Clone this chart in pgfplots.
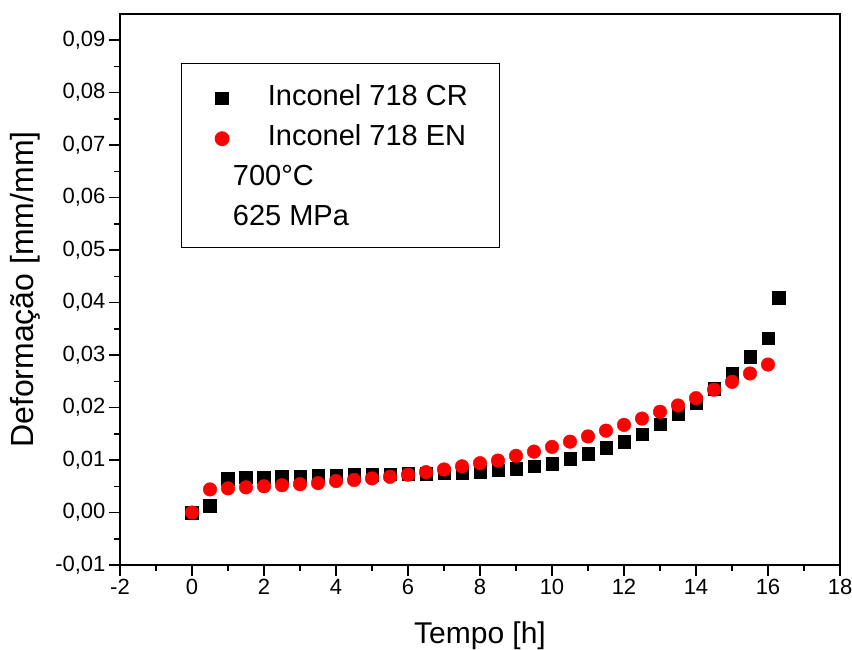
\documentclass[border=0pt]{standalone}
\usepackage{pgfplots}
\pgfplotsset{compat=1.18}
\usepackage{fontspec}
\setmainfont{Liberation Sans}
\pgfplotsset{shiftedlegend/.style={legend image code/.code={\draw[mark repeat=2,mark phase=2,##1] plot coordinates {(0cm,-3pt) (0.3cm,-3pt) (0.6cm,-3pt)};}}}
\begin{document}
\begin{tikzpicture}[x=1pt,y=1pt]
\useasboundingbox (-120,-85) rectangle (732,565);
\begin{axis}[
  at={(0,0)}, anchor=south west,
  scale only axis, width=720pt, height=551pt,
  xmin=-2, xmax=18, ymin=-0.01, ymax=0.095,
  xtick={-2,0,2,4,6,8,10,12,14,16,18},
  ytick={-0.01,0,0.01,0.02,0.03,0.04,0.05,0.06,0.07,0.08,0.09},
  minor x tick num=1, minor y tick num=1,
  scaled y ticks=false,
  xtick pos=bottom, ytick pos=left,
  tick align=outside,
  major tick length=11pt, minor tick length=6pt,
  every tick/.style={line width=1.5pt, black},
  axis line style={line width=1.6pt},
  ticklabel style={font=\fontsize{22}{26}\selectfont},
  /pgf/number format/assume math mode=true,
  yticklabel style={/pgf/number format/.cd, fixed, fixed zerofill, precision=2, use comma},
  xticklabel style={/pgf/number format/.cd, fixed, precision=0},
  xlabel={Tempo [h]},
  xlabel style={font=\fontsize{30}{35}\selectfont, at={(axis description cs:0.5,0)}, anchor=base, yshift=-79pt},
  ylabel={Deformação [mm/mm]},
  ylabel style={font=\fontsize{32}{38}\selectfont, at={(axis description cs:0,0.5)}, anchor=center, yshift=95pt},
  shiftedlegend,
  legend cell align=left,
  legend style={at={(axis description cs:0.0847,0.9111)}, anchor=north west,
    draw=black, line width=1.2pt, font=\fontsize{29}{34}\selectfont,
    inner xsep=32pt, inner ysep=14pt, row sep=4.1pt,
    nodes={inner sep=0pt, text height=28pt, text depth=8pt}},
]
\addplot[only marks, mark=square*, mark size=6.3pt, black, mark options={draw=none, fill=black}] coordinates {
(0,0.0000) (0.5,0.0013) (1,0.0065) (1.5,0.0067) (2,0.0067) (2.5,0.0068)
(3,0.0069) (3.5,0.0070) (4,0.0071) (4.5,0.0072) (5,0.0072) (5.5,0.0073)
(6,0.0074) (6.5,0.0074) (7,0.0075) (7.5,0.0076) (8,0.0078) (8.5,0.0081)
(9,0.0084) (9.5,0.0088) (10,0.0093) (10.5,0.0103) (11,0.0112) (11.5,0.0124)
(12,0.0135) (12.5,0.0149) (13,0.0168) (13.5,0.0188) (14,0.0209) (14.5,0.0236)
(15,0.0264) (15.5,0.0297) (16,0.0332) (16.3,0.0409)
};
\addlegendentry{\hspace*{39pt}Inconel 718 CR}
\addplot[only marks, mark=*, mark size=6.8pt, red, mark options={draw=red, fill=red}] coordinates {
(0,0.0000) (0.5,0.0044) (1,0.0046) (1.5,0.0048) (2,0.0050) (2.5,0.0052)
(3,0.0054) (3.5,0.0056) (4,0.0060) (4.5,0.0062) (5,0.0065) (5.5,0.0068)
(6,0.0072) (6.5,0.0077) (7,0.0082) (7.5,0.0088) (8,0.0094) (8.5,0.0099)
(9,0.0108) (9.5,0.0116) (10,0.0125) (10.5,0.0135) (11,0.0145) (11.5,0.0156)
(12,0.0167) (12.5,0.0179) (13,0.0192) (13.5,0.0204) (14,0.0218) (14.5,0.0234)
(15,0.0249) (15.5,0.0265) (16,0.0282)
};
\addlegendentry{\hspace*{39pt}Inconel 718 EN}
\addlegendimage{empty legend}
\addlegendentry{\hspace*{4pt}700°C}
\addlegendimage{empty legend}
\addlegendentry{\hspace*{4pt}625 MPa}
\end{axis}
\end{tikzpicture}
\end{document}
